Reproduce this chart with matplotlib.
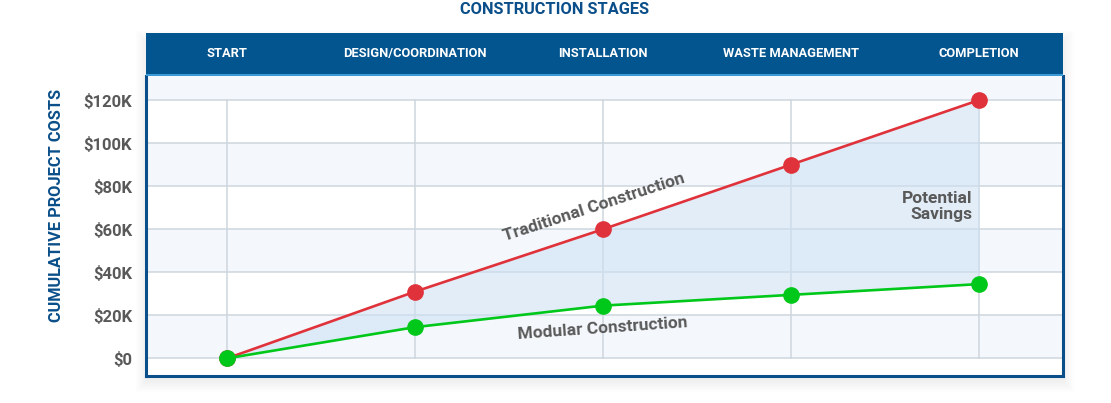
import matplotlib.pyplot as plt
from matplotlib.patches import Rectangle
import numpy as np

plt.rcParams['font.family'] = ['Roboto', 'DejaVu Sans']

stages = ['START', 'DESIGN/COORDINATION', 'INSTALLATION', 'WASTE MANAGEMENT', 'COMPLETION']
traditional = [0, 31000, 60000, 90000, 120000]
modular = [0, 14500, 24500, 29500, 34500]
yticks = [0, 20000, 40000, 60000, 80000, 100000, 120000]
ytick_labels = ['$0', '$20K', '$40K', '$60K', '$80K', '$100K', '$120K']

blue = '#03558f'
dark_blue = '#0b4f8a'
grey_text = '#595959'
grid_c = '#cdd6de'
band_c = '#f4f8fc'
red = '#e0323a'
green = '#00c81a'

W, H = 1111, 403
fig = plt.figure(figsize=(W / 100, H / 100), dpi=100)

def fx(px):
    return px / W

def fy(py):
    return 1 - py / H

# soft shadow around the chart box
for i in range(8):
    pad = i * 1.5
    fig.patches.append(Rectangle((fx(146 - pad), fy(378 + pad + 3)),
                                 fx(917 + 2 * pad), (340 + 2 * pad) / H,
                                 transform=fig.transFigure, facecolor='#000000',
                                 alpha=0.009, edgecolor='none', zorder=-5))

x = np.arange(len(stages))
xlim = (-0.431, 4.447)

ax = fig.add_axes([fx(146), fy(376), fx(1063 - 146), (376 - 76) / H])
ax.set_zorder(5)
ax.set_facecolor('white')
ax.set_xlim(*xlim)
ax.set_ylim(-8200, 131200)

# alternating bands
for lo, hi in [(0, 20000), (40000, 60000), (80000, 100000), (120000, 140000)]:
    ax.axhspan(lo, hi, color=band_c, zorder=0, lw=0)

for yv in yticks:
    ax.axhline(yv, color=grid_c, lw=1.1, zorder=1)
for xv in x:
    ax.plot([xv, xv], [0, 120000], color=grid_c, lw=1.1, zorder=1)

ax.fill_between(x, modular, traditional, color='#cfe2f4', alpha=0.6, lw=0, zorder=2)
ax.plot(x, traditional, color=red, lw=1.9, marker='o', ms=11, zorder=4)
ax.plot(x, modular, color=green, lw=1.9, marker='o', ms=11, zorder=5)

ax.text(1.95, 70200, 'Traditional Construction', rotation=18, rotation_mode='anchor',
        ha='center', va='center', fontsize=12.5, fontweight='bold', color=grey_text, zorder=6)
ax.text(2.0, 14000, 'Modular Construction', rotation=4, rotation_mode='anchor',
        ha='center', va='center', fontsize=12.5, fontweight='bold', color=grey_text, zorder=6)
ax.text(3.963, 70700, 'Potential\nSavings', ha='right', va='center', fontsize=12.5,
        fontweight='bold', color=grey_text, linespacing=1.1, zorder=6)

ax.set_yticks(yticks)
ax.set_yticklabels(ytick_labels, fontsize=12, fontweight='bold', color=grey_text)
ax.set_xticks([])
ax.tick_params(axis='y', length=0, pad=10)
for side in ['left', 'right', 'bottom']:
    ax.spines[side].set_color(dark_blue)
    ax.spines[side].set_linewidth(2.2)
ax.spines['top'].set_visible(False)

# header band with stage names
hax = fig.add_axes([fx(146), fy(76), fx(1063 - 146), (76 - 33) / H])
hax.set_zorder(5)
hax.set_facecolor(blue)
hax.set_xlim(*xlim)
hax.set_ylim(0, 1)
hax.set_xticks([])
hax.set_yticks([])
for s in hax.spines.values():
    s.set_visible(False)
hax.axhline(0.02, color='#3a9ad6', lw=1.5)
for xv, name in zip(x, stages):
    hax.text(xv, 0.52, name, ha='center', va='center', color='white',
             fontsize=9.3, fontweight='bold')

fig.text(fx(555), fy(10), 'CONSTRUCTION STAGES', ha='center', va='center',
         fontsize=11.8, fontweight='bold', color=dark_blue)
fig.text(fx(57), fy(205), 'CUMULATIVE PROJECT COSTS', ha='center', va='center',
         rotation=90, fontsize=11.8, fontweight='bold', color=dark_blue)

fig.savefig('out.png', dpi=100)
